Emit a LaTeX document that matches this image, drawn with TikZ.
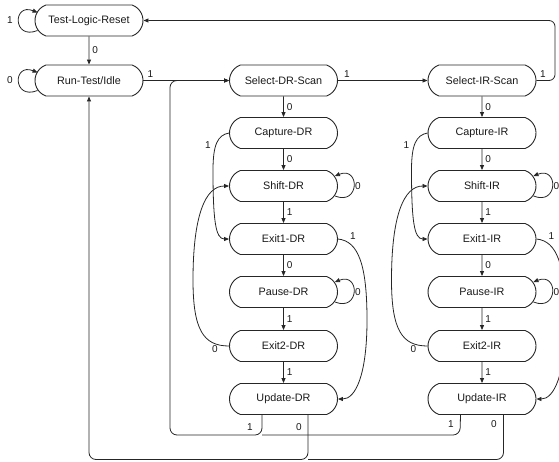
\documentclass[tikz,border=0pt]{standalone}
\usepackage{fontspec}
\setmainfont{Liberation Sans}
\usetikzlibrary{shapes.misc,arrows.meta,calc}
\begin{document}
\begin{tikzpicture}[x=1pt,y=-1pt,
  st/.style={draw=black!85, line width=0.9pt, rounded rectangle, rounded rectangle arc length=140,
    minimum width=108pt, minimum height=31pt, inner sep=0pt, font=\fontsize{10.8}{12}\selectfont, text=black!90},
  ln/.style={draw=black!85, line width=0.8pt},
  arr/.style={ln, -{Triangle[length=5pt,width=4pt]}},
  lb/.style={font=\fontsize{10}{12}\selectfont, text=black!90, inner sep=1pt}]
\useasboundingbox (0,0) rectangle (559,461);

% top-left states
\node[st] (tlr) at (89,20.5) {Test-Logic-Reset};
\node[st] (rti) at (89,80.5) {Run-Test/Idle};

% columns
\foreach \p/\cx in {DR/283.5, IR/482}{
  \node[st] (sel\p) at (\cx,80.5) {Select-\p-Scan};
  \node[st] (cap\p) at (\cx,133) {Capture-\p};
  \node[st] (sh\p)  at (\cx,186) {Shift-\p};
  \node[st] (exa\p) at (\cx,239) {Exit1-\p};
  \node[st] (pa\p)  at (\cx,292) {Pause-\p};
  \node[st] (exb\p) at (\cx,346) {Exit2-\p};
  \node[st] (up\p)  at (\cx,399) {Update-\p};

  \draw[arr] (sel\p) -- node[lb,right=2pt] {0} (cap\p);
  \draw[arr] (cap\p) -- node[lb,right=2pt] {0} (sh\p);
  \draw[arr] (sh\p)  -- node[lb,right=2pt] {1} (exa\p);
  \draw[arr] (exa\p) -- node[lb,right=2pt] {0} (pa\p);
  \draw[arr] (pa\p)  -- node[lb,right=2pt] {1} (exb\p);
  \draw[arr] (exb\p) -- node[lb,right=2pt] {1} (up\p);

  % self loops
  \draw[arr] ([shift={(-3,10)}]sh\p.east) .. controls +(25,10) and +(25,-10) .. ([shift={(-3,-10)}]sh\p.east);
  \node[lb] at (\cx+74.5,186) {0};
  \draw[arr] ([shift={(-3,10)}]pa\p.east) .. controls +(25,10) and +(25,-10) .. ([shift={(-3,-10)}]pa\p.east);
  \node[lb] at (\cx+74.5,292) {0};

  % Capture -> Exit1
  \draw[arr] (cap\p.west) .. controls (\cx-66,135) and (\cx-70.5,145) .. (\cx-70.5,170)
     .. controls (\cx-70.5,220) and (\cx-68,239) .. (exa\p.west);
  \node[lb] at (\cx-75.5,145) {1};

  % Exit2 -> Shift
  \draw[arr] (exb\p.west) .. controls (\cx-80,346) and (\cx-90.5,330) .. (\cx-90.5,280)
     .. controls (\cx-90.5,215) and (\cx-78,186) .. (sh\p.west);
  \node[lb] at (\cx-68.5,349) {0};

  % Exit1 -> Update
  \draw[arr] (exa\p.east) .. controls (\cx+75,241) and (\cx+83.5,265) .. (\cx+83.5,320)
     .. controls (\cx+83.5,375) and (\cx+72,399) .. (up\p.east);
  \node[lb] at (\cx+69.5,236) {1};
}

% top connections
\draw[arr] ([shift={(3,10)}]tlr.west) .. controls +(-25,10) and +(-25,-10) .. ([shift={(3,-8)}]tlr.west);
\node[lb] at (10,20.5) {1};
\draw[arr] ([shift={(3,10)}]rti.west) .. controls +(-25,10) and +(-25,-10) .. ([shift={(3,-8)}]rti.west);
\node[lb] at (10,80.5) {0};

\draw[arr] (tlr) -- node[lb,right=2pt] {0} (rti);
\draw[arr] (rti.east) -- node[lb,above=2pt,pos=0.08] {1} (selDR.west);
\draw[arr] (selDR.east) -- node[lb,above=2pt,pos=0.1] {1} (selIR.west);
\draw[arr, rounded corners=6pt] (selIR.east) -- node[lb,above=2pt,pos=0.35] {1} (555,80.5) -- (555,20.5) -- (tlr.east);

% update exits
\draw[arr, rounded corners=7pt] ([xshift=-21.5pt]upDR.south) -- (262,435) -- (170,435) -- (170,80.5) -- (selDR.west);
\draw[ln, rounded corners=7pt] ([xshift=-21.5pt]upIR.south) -- (460,435) -- (262,435);
\draw[arr, rounded corners=7pt] ([xshift=24.5pt]upDR.south) -- (308,459.5) -- (89,459.5) -- (rti.south);
\draw[ln, rounded corners=7pt] ([xshift=21.5pt]upIR.south) -- (503.5,459.5) -- (308,459.5);
\node[lb] at (250,427) {1};
\node[lb] at (299,427) {0};
\node[lb] at (451,424) {1};
\node[lb] at (494,424) {0};
\end{tikzpicture}
\end{document}
